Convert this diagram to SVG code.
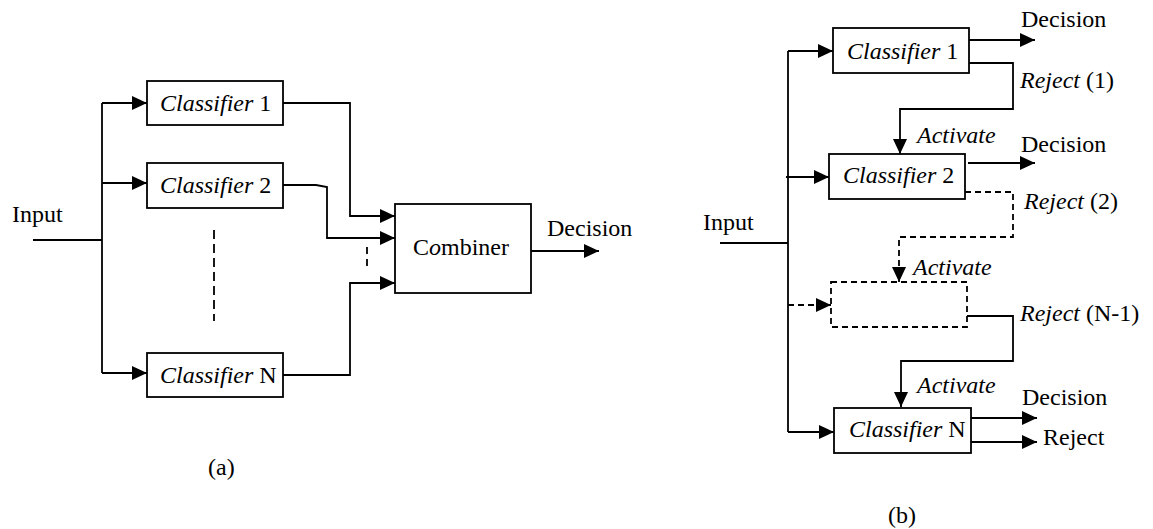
<svg xmlns="http://www.w3.org/2000/svg" width="1153" height="529" viewBox="0 0 1153 529">
<style>
text{font-size:24px;fill:#000}
.i{font-style:italic}
.box{fill:#fff;stroke:#000;stroke-width:1.8}
.dbox{fill:#fff;stroke:#000;stroke-width:1.8;stroke-dasharray:6,4}
.ln{fill:none;stroke:#000;stroke-width:1.8}
.ar{fill:none;stroke:#000;stroke-width:1.8;marker-end:url(#ah)}
.dash{stroke-dasharray:6,4}
</style>
<defs>
<marker id="ah" markerUnits="userSpaceOnUse" markerWidth="15" markerHeight="14" refX="15" refY="7" orient="auto">
<path d="M0,0 L15,7 L0,14 z" fill="#000"/>
</marker>
</defs>
<rect width="1153" height="529" fill="#fff"/>

<g id="connectors">
<path class="ln" d="M33,240 H102"/>
<path class="ln" d="M102,103 V373"/>
<path class="ar" d="M102,103 H147"/>
<path class="ar" d="M102,183 H147"/>
<path class="ar" d="M102,373 H147"/>
<path class="ar" d="M283,103 H350 V216 H395"/>
<path class="ar" d="M283,185 H316 L327,187 V238 H395"/>
<path class="ar" d="M283,375 H350 V283 H395"/>
<path class="ln" d="M214,230 V321" stroke-dasharray="9,5"/>
<path class="ln" d="M367,247 V267" stroke-dasharray="7,5"/>
<path class="ar" d="M531,251 H599"/>
<path class="ln" d="M720,243 H788"/>
<path class="ln" d="M788,51 V432"/>
<path class="ar" d="M788,51 H833"/>
<path class="ar" d="M786,177 H829"/>
<path class="ar dash" d="M788,305 H831"/>
<path class="ar" d="M788,432 H834"/>
<path class="ar" d="M969,40 H1035"/>
<path class="ar" d="M969,63 H1013 V109 H900 V154"/>
<path class="ar" d="M968,163 H1035"/>
<path class="ar dash" d="M965,192 H1013 V237 H899 V282"/>
<path class="ar" d="M967,316 H1013 V361 H901 V407"/>
<path class="ar" d="M971,418 H1037"/>
<path class="ar" d="M971,442 H1037"/>
</g>

<g font-family="'Liberation Serif', 'Times New Roman', 'DejaVu Serif', serif">
<g id="a-input"><text x="12" y="222">Input</text></g>
<g id="a-classifier1"><rect class="box" x="147" y="81" width="136" height="44"/><text x="160" y="111"><tspan class="i">Classifier</tspan> 1</text></g>
<g id="a-classifier2"><rect class="box" x="147" y="163" width="136" height="45"/><text x="160" y="193"><tspan class="i">Classifier</tspan> 2</text></g>
<g id="a-classifierN"><rect class="box" x="147" y="353" width="136" height="44"/><text x="160" y="383"><tspan class="i">Classifier</tspan> N</text></g>
<g id="a-combiner"><rect class="box" x="395" y="204" width="136" height="89"/><text x="413" y="255">C<tspan class="i">o</tspan>mbiner</text></g>
<g id="a-decision"><text x="547" y="236">Decision</text></g>
<g id="a-label"><text x="208" y="475">(a)</text></g>

<g id="b-input"><text x="703" y="230">Input</text></g>
<g id="b-classifier1"><rect class="box" x="833" y="28" width="136" height="45"/><text x="847" y="59"><tspan class="i">Classifier</tspan> 1</text></g>
<g id="b-classifier2"><rect class="box" x="829" y="154" width="136" height="45"/><text x="843" y="183"><tspan class="i">Classifier</tspan> 2</text></g>
<g id="b-dashed"><rect class="dbox" x="831" y="282" width="136" height="45"/></g>
<g id="b-classifierN"><rect class="box" x="834" y="408" width="137" height="45"/><text x="849" y="437"><tspan class="i">Classifier</tspan> N</text></g>
<g id="b-labels">
<text x="1021" y="27">Decision</text>
<text x="1020" y="88"><tspan class="i">Reject</tspan> (1)</text>
<text x="917" y="143" class="i">Activate</text>
<text x="1021" y="152">Decision</text>
<text x="1024" y="209"><tspan class="i">Reject</tspan> (2)</text>
<text x="913" y="275" class="i">Activate</text>
<text x="1020" y="321"><tspan class="i">Reject</tspan> (N-1)</text>
<text x="917" y="393" class="i">Activate</text>
<text x="1022" y="405">Decision</text>
<text x="1043" y="445">Reject</text>
<text x="888" y="523">(b)</text>
</g>
</g>
</svg>
